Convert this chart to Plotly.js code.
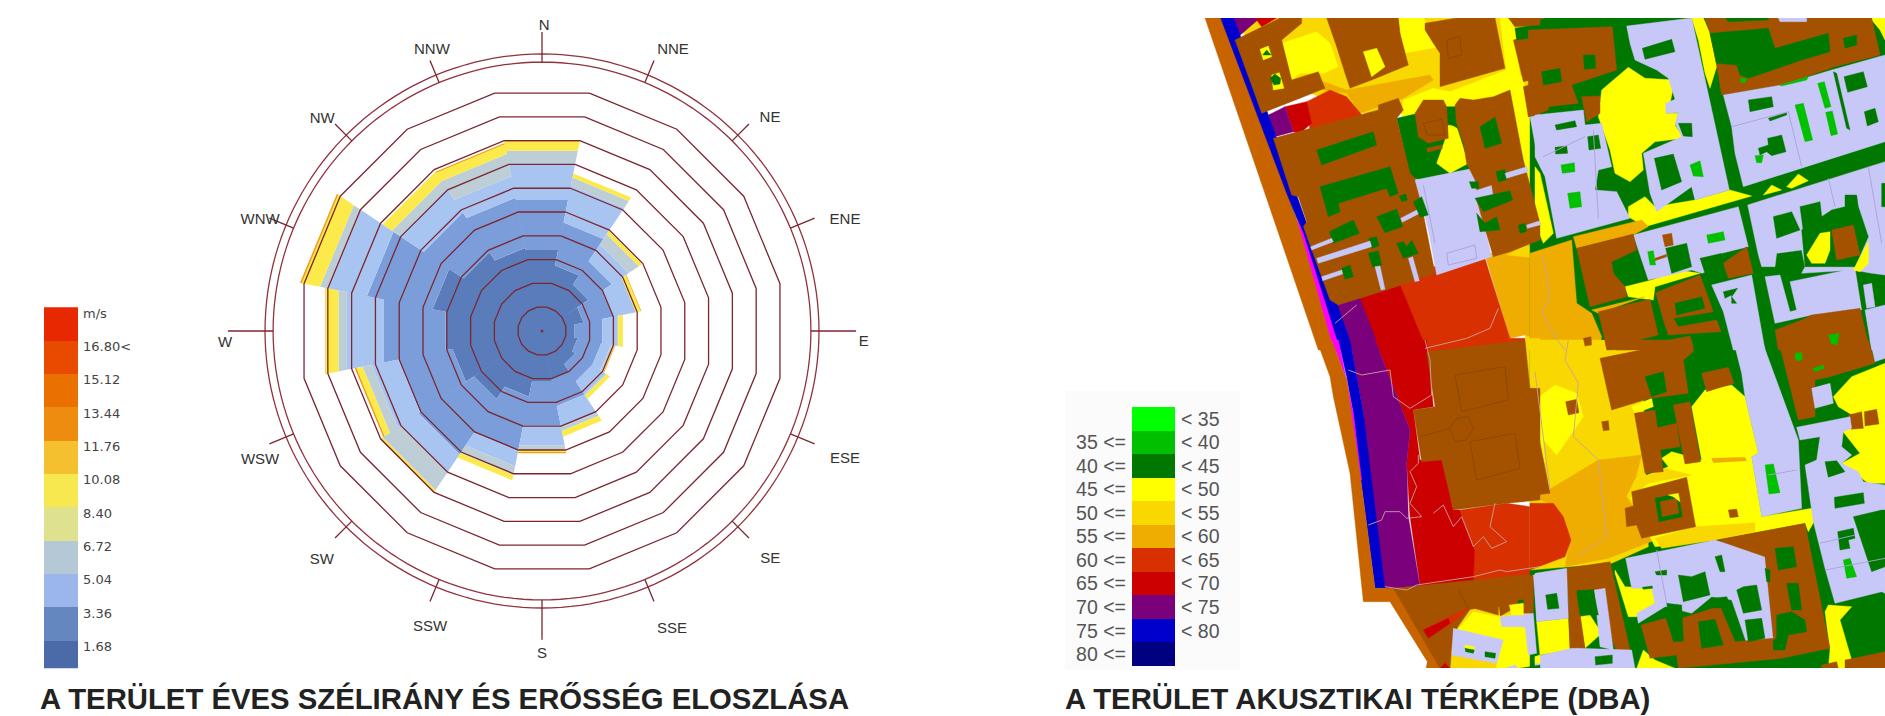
<!DOCTYPE html>
<html><head><meta charset="utf-8">
<script src="https://cdn.plot.ly/plotly-3.0.1.min.js"></script>
<style>html,body{margin:0;padding:0;background:#fff;overflow:hidden}</style></head>
<body><div id="chart" style="width:1885px;height:716px"></div>
<script>
/* ---------- wind rose data (cumulative reach per direction, in ring units) ---------- */
const directions = ['N','NNE','NE','ENE','E','ESE','SE','SSE','S','SSW','SW','WSW','W','WNW','NW','NNW'];
const reachClass1 = [3.4,2.75,2.3,1.75,1.35,1.5,1.65,2.0,2.13,2.76,3.37,3.77,4.05,4.6,3.9,3.5];
const reachClass2 = [5.5,4.56,3.46,3.0,2.53,2.5,2.5,3.15,3.95,5.04,6.12,6.04,6.64,7.36,5.87,5.6];
const reachClass3 = [7.05,6.1,4.3,3.95,3.16,2.9,3.15,4.06,4.8,5.68,6.98,7.16,8.2,8.97,7.05,6.5];
const reachClass4 = [7.57,6.45,4.8,3.95,3.2,3.0,3.2,4.2,5.0,6.05,7.9,7.54,8.55,9.33,7.44,7.44];
const reachClass5 = [7.95,6.62,4.96,4.15,3.4,3.05,3.37,4.44,5.08,6.27,7.97,7.8,9.08,10.1,7.9,7.85];
const reachClass6 = [8.03,6.62,4.96,4.18,3.4,3.08,3.37,4.44,5.14,6.27,8.03,7.87,9.1,10.17,7.9,7.9];
const classColors = ['#5a7cbb','#7b9dd9','#a8c4f0','#bdced6','#fbea4a','#f0a010'];
const ringValues = [1,2,3,4,5,6,7,8,9,10];
const tickEnds = [12.56,12.3,12.3,12.4,13.2,12.4,12.3,12.3,12.98,12.3,12.3,12.4,13.2,12.4,12.3,12.3];
const labelR = [12.8,13.03,13.1,13.56,13.53,13.83,13.57,13.66,13.57,13.3,13.35,13.03,13.33,12.73,12.84,12.68];
const labelTheta = [0.4,25,47,69.9,92,113,135,156.4,180,200.7,223.9,245.4,267.8,291.5,314,338.6];
const rimValues = [11.64,11.3];
const axisReach = 13.91;

/* ---------- legends ---------- */
const windLabels = ['1.68','3.36','5.04','6.72','8.40','10.08','11.76','13.44','15.12','16.80<','m/s'];
const windColors = ['#4a6aa8','#6487c0','#9bb6ea','#b4c8d6','#dee28e','#f8e850','#f5c030','#ee8c10','#ea7000','#e84a00','#e82800'];
const noiseColors = ['#00ff00','#00c000','#007800','#ffff00','#f8d800','#eead00','#d83000','#cc0000','#7b007b','#0000cc','#000080'];
const noiseRight = ['< 35','< 40','< 45','< 50','< 55','< 60','< 65','< 70','< 75','< 80',''];
const noiseLeft = ['','35 <=','40 <=','45 <=','50 <=','55 <=','60 <=','65 <=','70 <=','75 <=','80 <='];

/* ---------- noise map polygons: [layer, colour key, x,y,x,y...] in four map tiles ---------- */
const mapColors = {B:'#a55200',L:'#c8c8f8',G:'#007800',g:'#00c000',Y:'#ffff00',D:'#f8d800',O:'#eead00',R:'#d83000',r:'#cc0000',P:'#7b007b',U:'#0000cc',N:'#000080',E:'#c86400',M:'#ff00ff',k:'#c8a0a0',l:'#a8a0d8',b:'#8a4600'};
const tileA = [
[0,'Y',[950,300,1050,300,1050,720,950,720]],
[0,'D',[130,24,1050,24,1050,310,640,310,500,310,250,200]],
[0,'Y',[275,100,380,65,420,100,445,170,400,190,330,190,305,210]],
[0,'Y',[625,24,700,24,750,110,640,130]],
[0,'Y',[635,320,640,270,730,235,780,245,950,180,1000,200,1050,640,1020,660,1000,320]],
[0,'Y',[930,24,960,24,975,60,990,200,950,190]],
[0,'O',[400,215,470,240,720,195,730,210,640,265,510,310,470,250,400,240]],
[0,'R',[350,275,420,240,470,260,520,320,360,365]],
[0,'r',[285,290,350,275,365,340,330,370,310,365]],
[0,'P',[235,315,285,290,310,365,255,380]],
[0,'P',[125,24,210,24,145,80]],
[0,'r',[195,24,260,24,215,50]],
[0,'G',[620,325,770,290,820,290,850,480,690,510,660,500]],
[0,'Y',[775,345,800,350,835,460,780,490,740,460,765,390]],
[0,'O',[885,735,940,720,1050,700,1050,1020,1005,975,960,985]],
[0,'D',[950,735,1010,705,1050,730,1050,745]],
[0,'R',[620,800,880,730,960,985,700,1020]],
[0,'r',[480,850,620,800,710,1020,570,1020]],
[0,'P',[430,860,500,840,570,1020,490,1020]],
[0,'D',[1005,980,1050,975,1050,1020,1010,1020]],
[0,'E',[45,24,105,24,460,1020,385,1020]],
[0,'U',[92,24,132,24,350,640,345,650,440,880,490,1020,445,1020,335,660,290,550]],
[0,'M',[322,630,340,670,450,1020,432,1020]],
[1,'B',[135,90,270,24,335,24,335,40,275,90,305,210,385,185,405,235,330,265,215,310,190,240]],
[2,'Y',[210,118,235,108,245,140,220,150]],
[2,'G',[218,135,230,120,243,135]],
[2,'Y',[245,195,268,188,282,235,250,240]],
[3,'G',[240,205,255,192,272,205,270,222,252,225]],
[1,'B',[410,24,625,24,630,70,655,165,545,210,480,235,465,190,440,110]],
[2,'Y',[520,125,560,115,585,170,545,200]],
[1,'B',[705,40,800,24,915,24,945,175,750,230,750,130,730,100,705,60]],
[1,'B',[250,385,565,300,565,285,625,265,640,300,620,325,660,490,680,510,735,790,590,840,445,885,420,870,340,650,350,635,325,560,305,555]],
[2,'G',[380,420,550,365,560,405,395,465]],
[2,'G',[390,530,600,470,625,550,600,560,590,535,445,580,450,605,415,620]],
[2,'G',[418,665,490,630,508,670,430,700]],
[2,'G',[560,620,620,597,638,650,585,668]],
[2,'G',[536,685,560,680,567,708,545,715]],
[2,'G',[535,730,565,722,575,765,548,772]],
[2,'G',[620,700,640,695,650,710,665,690,685,730,640,745]],
[2,'G',[455,775,480,765,490,800,465,808]],
[2,'G',[670,575,695,560,715,615,690,622]],
[2,'G',[628,558,648,552,652,570,635,575]],
[2,'L',[362,710,425,685,430,695,365,720]],
[2,'L',[380,745,540,693,545,710,385,760]],
[2,'L',[395,800,455,780,458,792,398,812]],
[2,'L',[555,770,570,768,585,838,573,840]],
[2,'L',[655,745,668,740,688,812,675,815]],
[2,'L',[632,625,680,600,685,612,637,637]],
[1,'L',[675,510,850,475,860,510,860,540,905,525,910,555,870,565,865,590,880,640,905,740,740,795,715,660,700,600]],
[1,'B',[795,285,810,265,850,270,910,260,960,240,1000,450,1050,640,1050,690,960,725,910,740,880,640,860,570,910,555,905,525,860,540,855,510,835,470,830,460,820,400,800,340]],
[2,'G',[870,350,915,322,935,400,885,415]],
[2,'G',[918,485,945,478,950,510,925,515]],
[2,'G',[838,515,865,515,866,535,845,535]],
[2,'G',[855,565,960,542,968,570,880,605]],
[2,'G',[860,610,885,640,920,620,930,660,870,665]],
[2,'G',[985,645,1005,640,1010,665,990,670]],
[2,'L',[945,490,1010,470,1015,485,950,505]],
[2,'L',[1010,645,1050,632,1050,645,1012,655]],
[1,'B',[675,310,700,270,760,270,770,290,775,385,715,400,685,380]],
[1,'B',[710,415,755,405,757,415,713,427]],
[0,'G',[765,300,800,290,810,360,780,340]],
[1,'B',[970,90,1050,70,1050,205,1000,215]],
[1,'G',[975,55,1050,40,1050,80,980,90]],
[1,'B',[955,24,1050,24,1050,45,975,50]],
[1,'B',[1000,230,1050,215,1050,315,1015,320]],
[1,'L',[1020,320,1050,315,1050,420,1040,430]],
[4,'b',[700,340,755,328,765,375,712,375,700,340]],
[4,'b',[770,90,810,80,815,135,775,145,770,90]],
[4,'l',[700,525,735,700]],
[4,'l',[770,730,855,705,860,745,775,765,770,730]],
[4,'k',[435,940,500,885]],
[4,'k',[705,1015,830,985,900,955,925,895]],
];
const tileB = [
[0,'G',[-15,24,1050,24,1050,1020,-15,1020]],
[0,'Y',[0,470,15,490,55,670,25,700,0,640]],
[0,'Y',[470,24,505,24,525,70,545,170,525,235,510,190,490,90]],
[0,'Y',[1005,24,1050,24,1050,90,1035,60]],
[0,'Y',[200,240,280,172,330,205,420,210,405,280,395,310,430,310,420,345,445,385,360,395,320,430,325,480,285,515,240,490,225,420,190,320]],
[0,'Y',[280,590,330,560,360,590,480,570,585,540,650,558,330,650,280,620]],
[0,'Y',[685,555,710,525,740,540]],
[0,'Y',[755,530,790,492,820,512,770,535]],
[0,'Y',[270,830,350,810,430,780,495,790,360,830,355,870,280,860]],
[0,'O',[115,680,320,630,340,650,300,672,125,715]],
[0,'O',[-15,730,110,690,125,880,170,910,200,980,190,1020,-15,1020]],
[0,'O',[170,900,330,860,190,910]],
[0,'D',[190,990,215,1020,190,1020]],
[1,'B',[-20,60,232,50,245,180,110,225,130,280,40,290,40,300,0,315,-20,320]],
[2,'G',[20,185,75,175,80,215,25,225]],
[2,'G',[145,135,180,135,182,175,148,178]],
[1,'B',[140,260,195,258,195,310,155,335]],
[1,'B',[-15,24,30,24,-15,40]],
[1,'L',[0,315,145,300,150,345,200,340,230,470,190,480,180,540,245,545,285,625,65,685,30,500,0,440]],
[2,'G',[60,345,120,332,125,350,65,360]],
[2,'G',[60,412,95,408,98,430,62,432]],
[2,'g',[78,465,118,458,120,485,82,490]],
[2,'g',[98,550,135,545,140,590,105,595]],
[2,'G',[158,380,190,375,197,415,162,420]],
[1,'L',[275,48,470,24,583,540,480,570,470,530,365,605,345,550,325,430,440,380,420,340,430,308,392,310,392,280,420,268,400,205,365,180,300,150,285,100]],
[2,'G',[322,115,410,88,420,125,330,148]],
[2,'G',[358,445,415,432,440,515,380,540]],
[2,'g',[465,465,495,452,505,500,475,498]],
[2,'G',[430,340,470,340,472,380,445,378]],
[1,'B',[510,24,1010,24,1035,135,900,170,740,225,560,255,545,165,525,70]],
[2,'G',[525,70,700,55,720,115,880,70,885,125,800,150,640,205,615,195,605,165,545,160]],
[2,'G',[925,85,965,75,965,105,930,115]],
[2,'G',[570,24,700,24,700,30,580,35]],
[2,'L',[730,24,815,24,815,35,735,35]],
[1,'L',[565,255,740,225,890,180,1050,135,1050,395,625,530,600,430,590,350]],
[2,'G',[640,270,710,260,715,290,645,305]],
[2,'g',[780,285,805,280,833,390,810,395]],
[2,'g',[848,220,868,215,888,290,870,295]],
[2,'g',[872,307,892,303,908,372,888,377]],
[2,'G',[927,200,985,185,997,230,938,247]],
[2,'G',[988,305,1020,295,1030,335,997,348]],
[2,'G',[670,415,700,405,698,385,740,375,753,425,710,437,695,425,675,435]],
[2,'g',[660,437,685,435,680,458,665,458]],
[2,'G',[700,325,755,308,755,315,705,333]],
[2,'G',[895,185,905,190,945,360,935,355]],
[2,'g',[735,225,820,200,815,210,740,228]],
[2,'g',[615,205,635,205,630,218,618,218]],
[1,'L',[638,585,1000,470,1050,455,1050,795,1010,790,955,780,800,790,810,770,800,720,725,730,720,770,680,770,670,735]],
[2,'G',[715,620,770,605,795,660,725,685]],
[2,'G',[795,590,855,575,865,660,805,665]],
[2,'G',[800,660,890,600,930,590,930,555,965,555,970,590,1000,680,960,770,810,770]],
[2,'G',[1040,520,1050,520,1050,590,1040,590]],
[3,'Y',[815,735,855,670,885,665,885,720,870,760,830,760]],
[3,'Y',[955,780,1000,695,1000,760,975,785]],
[3,'B',[890,660,955,645,975,735,905,750]],
[1,'L',[690,800,735,795,765,905,785,900,765,815,960,775,980,900,830,915,720,940]],
[1,'L',[985,825,1010,820,1020,890,995,895]],
[1,'L',[990,900,1050,885,1050,1020,1010,1020]],
[1,'B',[720,960,800,930,830,915,975,895,1000,1000,1000,1020,730,1020]],
[2,'g',[880,975,912,970,905,1005,890,1000]],
[1,'L',[295,675,610,590,640,710,560,730,565,770,500,790,470,780,340,810]],
[2,'B',[382,675,410,670,415,705,390,710]],
[2,'g',[515,675,565,665,570,690,520,700]],
[2,'G',[392,715,455,700,470,770,410,790]],
[2,'g',[338,725,355,722,362,765,345,765]],
[2,'B',[360,745,395,733,395,740,360,752]],
[2,'G',[495,745,560,730,570,770,575,800,520,820,510,790]],
[1,'B',[125,715,295,672,305,720,230,755,235,790,270,830,275,860,165,890]],
[1,'B',[362,848,495,795,535,905,415,925,430,950,545,930,558,965,400,975,385,930]],
[2,'G',[420,880,500,860,510,895,425,915]],
[1,'B',[190,905,345,868,370,975,215,1015]],
[1,'B',[245,1020,465,978,475,1020]],
[1,'B',[145,985,168,980,170,1005,150,1008]],
[2,'B',[565,760,635,710,655,790,580,805]],
[1,'L',[530,825,650,795,690,1020,595,1020,565,905]],
[2,'G',[565,845,608,835,590,860,605,880,590,880,590,855,570,865]],
[4,'l',[590,350,760,305,800,470]],
[4,'l',[150,380,25,440]],
[4,'l',[175,360,190,625]],
[4,'l',[880,505,900,590]],
[4,'l',[1000,470,1040,700]],
[4,'k',[25,740,45,860,20,905,60,980,90,1020]],
];
const tileC = [
[0,'R',[700,-5,1005,-5,1005,45,700,45]],
[0,'D',[1005,-5,1050,-5,1050,150,1020,150]],
[0,'r',[555,0,710,0,730,200,670,210,690,360,760,360,790,510,810,510,855,630,855,735,695,770,660,530,650,370,660,270]],
[0,'R',[810,510,950,490,1020,500,1050,480,1050,705,850,735,855,630]],
[0,'P',[480,0,555,0,660,270,650,370,655,530,695,770,640,780,585,745,540,500,520,220,498,100]],
[0,'U',[445,0,480,0,520,220,585,745,555,745,510,400,490,220,470,110]],
[0,'M',[425,0,445,0,490,220,515,420,505,420,470,120]],
[0,'E',[380,0,420,110,430,170,480,400,520,785,600,785,712,965,708,985,755,985,755,960,610,745,555,745,510,400,470,120,425,0]],
[0,'B',[610,745,1050,700,1050,985,750,985]],
[0,'D',[805,860,840,810,925,790,930,830,1000,790,1050,820,1050,985,760,985]],
[0,'Y',[805,865,850,815,925,830,1000,820,1050,830,1050,985,920,985,920,910,790,880]],
[0,'R',[700,870,840,800,800,840,720,890]],
[0,'r',[700,870,775,835,780,850,715,895]],
[1,'B',[710,35,1005,0,1020,145,1050,145,1050,480,950,490,790,510,755,360,695,365,670,210,735,200]],
[1,'B',[640,785,690,770,855,735,1030,705,1030,820,1000,820,1000,790,925,800,925,825,835,800,700,865]],
[1,'B',[725,900,800,840,790,870,780,985,760,985,755,950]],
[1,'L',[790,865,940,900,920,970,785,945]],
[2,'Y',[825,915,853,920,853,930,825,925]],
[2,'G',[825,925,853,930,850,940,827,935]],
[2,'G',[885,935,917,940,915,955,885,950]],
[1,'L',[930,830,1030,820,1040,940,1015,945,1005,860,935,860]],
[2,'G',[985,780,1000,780,1000,795,985,795]],
[2,'Y',[958,795,1000,790,1000,825,965,825]],
[1,'L',[1030,705,1050,700,1050,835,1040,840]],
[3,'r',[750,985,780,985,765,970]],
[3,'G',[990,985,1050,975,1050,985]],
[3,'L',[945,985,975,975,985,985]],
[4,'b',[795,105,945,80,955,180,815,215,795,105]],
[4,'b',[840,305,975,280,990,385,860,420,840,305]],
[4,'b',[778,265,800,235,835,230,850,265,830,300,795,305,778,265]],
[4,'b',[690,290,780,265]],
[4,'b',[805,750,835,805]],
[4,'k',[475,90,515,105,600,90,610,170,660,205,725,165,720,60,705,0]],
[4,'k',[685,345,685,370,660,395,680,440,660,490,695,530,650,535,630,515,585,515,575,540,535,555]],
[4,'k',[730,520,760,495,790,560,815,530,850,620,880,590,905,625,950,605,900,560,915,490]],
[4,'k',[585,740,650,750,680,735,850,710,930,690,950,695,1050,680]],
];
const tileD = [
[0,'G',[-15,30,1050,30,1050,985,-15,985]],
[0,'D',[-15,0,320,0,340,620,230,670,-15,690]],
[0,'Y',[0,180,60,135,125,160,145,230,65,345,25,300,30,370,0,310]],
[0,'O',[40,450,190,360,320,345,300,420,275,470,360,600,220,655,90,680,105,600,85,530,40,490,-5,470]],
[0,'R',[-15,490,55,490,85,530,108,600,90,650,-15,690]],
[0,'Y',[470,200,510,150,590,135,630,170,670,340,650,350,680,530,830,505,840,540,820,575,810,550,660,578,540,600,360,620,285,470,300,420,400,380,380,355,410,335,500,360]],
[0,'D',[275,470,300,420,390,385,470,405,340,430,290,470]],
[0,'D',[360,595,480,560,660,548,660,575,540,600,380,625]],
[0,'O',[530,355,630,352,635,362,535,368]],
[0,'Y',[290,200,350,175,355,200,300,220]],
[0,'Y',[895,170,950,110,1050,70,1050,430,1000,430,920,370,975,340,920,270,960,230,910,200]],
[0,'Y',[240,690,270,740,360,745,360,790,305,830,280,830,240,700]],
[0,'Y',[5,845,100,835,105,930,15,945]],
[0,'Y',[135,830,165,825,200,880,150,925]],
[0,'Y',[870,815,880,795,950,800,915,840,950,960,930,985,880,985,885,930]],
[0,'Y',[305,985,325,930,360,960,420,985]],
[1,'B',[195,55,465,0,475,35,445,60,460,160,345,175,230,210]],
[1,'B',[210,0,470,0,475,25,240,30,215,30]],
[1,'B',[500,100,580,82,597,130,515,155]],
[2,'G',[330,110,385,95,395,155,350,170]],
[1,'B',[298,220,360,210,385,395,330,400]],
[1,'B',[415,195,465,185,497,365,450,372]],
[1,'B',[360,265,425,250,435,320,370,330]],
[1,'B',[92,185,125,178,132,218,100,225]],
[1,'B',[200,245,220,242,223,270,205,272]],
[1,'B',[580,510,605,507,610,530,585,533]],
[1,'B',[290,455,455,412,482,560,320,595,305,555,275,560,270,505,295,498]],
[2,'G',[360,475,430,460,442,530,372,545]],
[3,'B',[375,485,425,475,432,520,382,530]],
[3,'Y',[400,465,430,460,435,485,415,470]],
[1,'B',[-15,220,0,230,45,460,0,465,-15,470]],
[1,'L',[595,0,680,0,790,300,800,505,680,530,650,350,670,340,630,170,620,100]],
[2,'g',[690,375,715,372,735,458,702,462]],
[1,'B',[730,0,1000,0,1020,70,885,110,840,120,840,230,790,240,760,120,745,60]],
[2,'g',[780,40,800,38,802,60,782,62]],
[2,'g',[835,85,865,75,868,85,838,95]],
[2,'g',[885,0,910,0,905,12,890,12]],
[1,'L',[830,145,885,130,895,190,840,205]],
[1,'L',[1005,0,1050,0,1050,55,1020,65]],
[1,'B',[940,225,980,215,985,265,948,268]],
[1,'B',[988,215,1025,208,1032,252,990,258]],
[1,'L',[785,262,945,230,950,265,925,275,920,320,950,345,920,370,970,395,985,425,1050,435,1050,760,1040,755,900,790,870,685,835,545,810,375,845,360,855,290,795,300]],
[2,'G',[870,365,905,362,930,395,880,412]],
[2,'G',[898,472,985,458,988,490,900,505]],
[2,'G',[955,530,1040,510,1050,510,1050,680,1010,695,985,620]],
[2,'G',[908,575,955,565,960,595,940,600,945,625,915,630]],
[2,'g',[925,660,945,655,965,710,935,715]],
[1,'B',[930,960,1050,935,1050,985,930,985]],
[1,'B',[860,975,905,965,910,985,860,985]],
[1,'L',[272,655,540,600,690,640,730,895,635,910,590,780,530,770,470,820,395,800,390,800,310,850,305,820,360,790,350,745,290,745]],
[2,'G',[430,705,470,710,510,695,525,765,445,785]],
[2,'G',[605,750,625,740,665,735,680,810,625,820]],
[2,'G',[630,840,680,835,690,895,640,905]],
[2,'G',[530,775,575,770,590,800,540,805]],
[2,'G',[540,650,560,645,570,695,555,695]],
[2,'G',[360,695,395,690,395,705,365,705]],
[2,'G',[322,742,352,738,352,745,325,748]],
[2,'G',[690,685,705,690,705,725,695,725]],
[1,'B',[545,600,810,550,885,925,740,955,430,985,425,945,345,955,318,855,392,835,415,905,445,905,440,835,555,798,600,905,715,895,690,650]],
[2,'G',[720,625,775,620,785,680,730,690]],
[2,'G',[755,730,790,730,800,810,770,810]],
[2,'G',[490,845,540,838,565,915,500,925]],
[2,'G',[725,825,770,815,810,840,815,875,760,885,750,930,715,930,715,900,725,895]],
[2,'G',[395,790,440,795,445,900,415,905]],
[1,'B',[95,685,225,665,285,930,245,935,175,750,125,750,150,925,105,930]],
[2,'G',[125,755,175,748,190,825,135,825]],
[1,'L',[0,700,95,685,100,835,5,845]],
[2,'G',[32,765,65,760,72,805,38,808]],
[1,'L',[178,750,210,745,235,930,195,920]],
[1,'L',[0,950,110,925,130,925,290,930,300,985,0,985]],
[2,'G',[180,950,232,945,232,970,182,975]],
[2,'Y',[0,950,15,945,15,970,0,970]],
[4,'l',[700,405,785,390]],
[4,'l',[365,630,395,790]],
[4,'l',[855,610,960,585]],
[4,'l',[870,690,1050,655]],
[4,'k',[100,0,90,60,130,130,115,290,190,360,215,590,130,650]],
[4,'k',[0,95,45,450]],
];
const mapTiles = [{ox:1190,oy:10,polys:tileA},{ox:1535,oy:10,polys:tileB},{ox:1190,oy:340,polys:tileC},{ox:1535,oy:340,polys:tileD}];

/* ---------- build traces ---------- */
const H = 716, W = 1885;
const traces = [];
const half = 11.25, sec = 1/Math.cos(half*Math.PI/180);
const centers = directions.map((d,i)=>i*22.5);

// wind rose bands
const reaches = [directions.map(()=>0),reachClass1,reachClass2,reachClass3,reachClass4,reachClass5,reachClass6];
classColors.forEach((c,k)=>{
  const th=[],rr=[];
  centers.forEach((a,i)=>{
    const r0=reaches[k][i]*sec, r1=reaches[k+1][i]*sec;
    if(r1<=r0) return;
    th.push(a-half,a+half,a+half,a-half,a-half,null);
    rr.push(r0,r0,r1,r1,r0,null);
  });
  traces.push({type:'scatterpolar',subplot:'polar',mode:'none',fill:'toself',fillcolor:c,theta:th,r:rr,hoverinfo:'skip',showlegend:false});
});
// rings
ringValues.forEach(v=>{
  const th=[],rr=[];
  for(let i=0;i<=16;i++){th.push(half+i*22.5);rr.push(v*sec);}
  traces.push({type:'scatterpolar',subplot:'polar',mode:'lines',line:{color:'#7c2630',width:1.3},theta:th,r:rr,hoverinfo:'skip',showlegend:false});
});
rimValues.forEach(v=>{
  const th=[],rr=[];
  for(let i=0;i<=360;i+=2){th.push(i);rr.push(v);}
  traces.push({type:'scatterpolar',subplot:'polar',mode:'lines',line:{color:'#92323c',width:1.3},theta:th,r:rr,hoverinfo:'skip',showlegend:false});
});
// direction ticks
{
  const th=[],rr=[];
  centers.forEach((a,i)=>{th.push(a,a,null);rr.push(rimValues[1],tickEnds[i],null);});
  traces.push({type:'scatterpolar',subplot:'polar',mode:'lines',line:{color:'#7c2630',width:1.3},theta:th,r:rr,hoverinfo:'skip',showlegend:false});
}
traces.push({type:'scatterpolar',subplot:'polar',mode:'markers',marker:{size:3,color:'#8a2a30'},theta:[0],r:[0],hoverinfo:'skip',showlegend:false});
traces.push({type:'scatterpolar',subplot:'polar',mode:'text',text:directions,theta:labelTheta,r:labelR,textposition:'middle center',
  textfont:{family:'Liberation Sans, Arial, sans-serif',size:15,color:'#333'},hoverinfo:'skip',showlegend:false});

// map
const allPolys=[];
mapTiles.forEach(t=>t.polys.forEach(p=>allPolys.push({z:p[0],c:p[1],pts:p[2],ox:t.ox,oy:t.oy})));
allPolys.forEach((p,i)=>p.i=i);
allPolys.sort((a,b)=>a.z-b.z||a.i-b.i);
let cur=null;
const lineKeys='klb';
allPolys.forEach(p=>{
  const isLine=lineKeys.indexOf(p.c)>=0;
  if(!cur||cur.key!==p.c){
    cur={key:p.c,t:isLine?
      {type:'scatter',xaxis:'x',yaxis:'y',mode:'lines',line:{color:mapColors[p.c],width:0.9},x:[],y:[],hoverinfo:'skip',showlegend:false}:
      {type:'scatter',xaxis:'x',yaxis:'y',mode:'lines',line:{color:mapColors[p.c],width:0.4},fill:'toself',fillcolor:mapColors[p.c],x:[],y:[],hoverinfo:'skip',showlegend:false}};
    traces.push(cur.t);
  }
  const xs=[],ys=[];
  for(let j=0;j<p.pts.length;j+=2){xs.push(p.ox+p.pts[j]/3);ys.push(p.oy+p.pts[j+1]/3);}
  if(!isLine){xs.push(xs[0]);ys.push(ys[0]);}
  cur.t.x.push(...xs,null);cur.t.y.push(...ys,null);
});

// wind legend
const idx11=windLabels.map((_,i)=>i);
traces.push({type:'bar',orientation:'h',xaxis:'x2',yaxis:'y2',x:idx11.map(()=>1),y:idx11,width:1,marker:{color:windColors,line:{width:0}},hoverinfo:'skip',showlegend:false});
// noise legend (cells listed top to bottom)
const noiseIdx=noiseColors.map((_,i)=>i);
traces.push({type:'bar',orientation:'h',xaxis:'x3',yaxis:'y3',x:noiseIdx.map(()=>1),y:noiseIdx,width:1,marker:{color:noiseColors,line:{width:0}},hoverinfo:'skip',showlegend:false});
traces.push({type:'bar',orientation:'h',xaxis:'x3',yaxis:'y4',x:noiseIdx.map(()=>1),y:noiseIdx,width:1,marker:{color:noiseColors,line:{width:0}},hoverinfo:'skip',showlegend:false});

const fx=p=>p/W, fy=p=>1-p/H;
const hidden={visible:false,showgrid:false,zeroline:false,fixedrange:true};
const noiseFont={family:'Liberation Sans, Arial, sans-serif',size:19.5,color:'#555'};
const rPx=331;
const layout={
  width:W,height:H,margin:{l:0,r:0,t:0,b:0,pad:0},paper_bgcolor:'#fff',plot_bgcolor:'rgba(0,0,0,0)',showlegend:false,bargap:0,
  polar:{domain:{x:[fx(542-rPx),fx(542+rPx)],y:[fy(331+rPx),fy(331-rPx)]},bgcolor:'rgba(0,0,0,0)',
    angularaxis:{visible:false,direction:'clockwise',rotation:90,thetaunit:'degrees'},
    radialaxis:{visible:false,range:[0,axisReach]}},
  xaxis:Object.assign({},hidden,{domain:[fx(1190),1],range:[1190,1885],anchor:'y'}),
  yaxis:Object.assign({},hidden,{domain:[fy(668),fy(18)],range:[668,18],anchor:'x'}),
  xaxis2:Object.assign({},hidden,{domain:[fx(43.7),fx(78)],range:[0,1],anchor:'y2'}),
  yaxis2:{domain:[fy(668.3),fy(307.3)],range:[-0.33,10.5],anchor:'x2',side:'right',showgrid:false,zeroline:false,showline:false,ticks:'',ticklabelstandoff:4,
    tickmode:'array',tickvals:idx11.map(i=>i+0.33),ticktext:windLabels,tickfont:{family:'DejaVu Sans, Verdana, sans-serif',size:13,color:'#444'},fixedrange:true},
  xaxis3:Object.assign({},hidden,{domain:[fx(1132),fx(1175)],range:[0,1],anchor:'y3'}),
  yaxis3:{domain:[fy(666),fy(407)],range:[10.5,-0.5],anchor:'x3',side:'left',showgrid:false,zeroline:false,showline:false,ticks:'',ticklabelstandoff:5,
    tickmode:'array',tickvals:noiseIdx,ticktext:noiseLeft,tickfont:noiseFont,fixedrange:true},
  yaxis4:{domain:[fy(666),fy(407)],range:[10.5,-0.5],anchor:'x3',overlaying:'y3',side:'right',showgrid:false,zeroline:false,showline:false,ticks:'',ticklabelstandoff:5,
    tickmode:'array',tickvals:noiseIdx,ticktext:noiseRight,tickfont:noiseFont,fixedrange:true},
  shapes:[{type:'rect',xref:'paper',yref:'paper',x0:fx(1065),x1:fx(1240),y0:fy(670),y1:fy(391),fillcolor:'#fbfbfb',line:{width:0},layer:'below'}],
  annotations:[
    {xref:'paper',yref:'paper',x:fx(38),y:fy(698),xanchor:'left',yanchor:'middle',showarrow:false,text:'A TERÜLET ÉVES SZÉLIRÁNY ÉS ERŐSSÉG ELOSZLÁSA',font:{family:'Liberation Sans, Arial, sans-serif',size:29.3,color:'#222',weight:700}},
    {xref:'paper',yref:'paper',x:fx(1063),y:fy(698),xanchor:'left',yanchor:'middle',showarrow:false,text:'A TERÜLET AKUSZTIKAI TÉRKÉPE (DBA)',font:{family:'Liberation Sans, Arial, sans-serif',size:29.3,color:'#222',weight:700}}
  ]
};
Plotly.newPlot('chart',traces,layout,{displayModeBar:false,staticPlot:true});
</script></body></html>
